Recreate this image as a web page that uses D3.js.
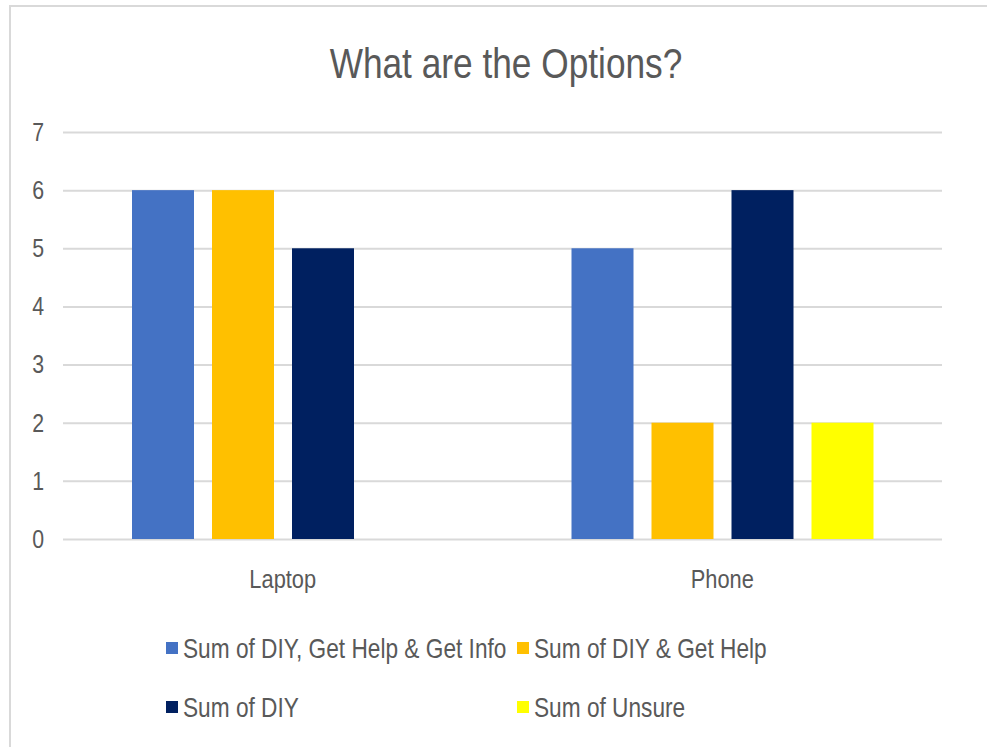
<!DOCTYPE html>
<html>
<head>
<meta charset="utf-8">
<script src="https://cdn.jsdelivr.net/npm/d3@7"></script>
<style>
  html, body { margin: 0; padding: 0; background: #ffffff; }
  svg { display: block; }
  text { font-family: "Liberation Sans", Arial, sans-serif; fill: #595959; }
</style>
</head>
<body>
<svg id="chart" width="987" height="747"></svg>
<script>
// ---- data ----
const categories = ["Laptop", "Phone"];
const seriesNames = [
  "Sum of DIY, Get Help & Get Info",
  "Sum of DIY & Get Help",
  "Sum of DIY",
  "Sum of Unsure"
];
const diyHelpInfo = [6, 5];
const diyHelp = [6, 2];
const diy = [5, 6];
const unsure = [0, 2];
const yTicks = [0, 1, 2, 3, 4, 5, 6, 7];
const seriesColors = ["#4472C4", "#FFC000", "#002060", "#FFFF00"];
const titleText = "What are the Options?";

const seriesValues = [diyHelpInfo, diyHelp, diy, unsure];
const SX = 0.82; // horizontal text condensing

const svg = d3.select("#chart");
svg.append("rect").attr("x", 0).attr("y", 0).attr("width", 987).attr("height", 747).attr("fill", "#fff");
// chart area border
svg.append("rect").attr("x", 10).attr("y", 6).attr("width", 1100).attr("height", 900)
  .attr("fill", "none").attr("stroke", "#d9d9d9").attr("stroke-width", 2);

const plot = { left: 63, right: 942, top: 132, bottom: 539 };

const x0 = d3.scaleBand().domain(categories).range([plot.left, plot.right]).padding(0);
const x1 = d3.scaleBand().domain(seriesNames).range([69, 371]).paddingInner(0.225).paddingOuter(0);
const y = d3.scaleLinear().domain([0, 7]).range([plot.bottom, plot.top]);

function addText(g, x, yy, str, size, anchor, sx) {
  return g.append("text")
    .attr("transform", `translate(${x},${yy}) scale(${sx || SX},1)`)
    .attr("text-anchor", anchor)
    .style("font-size", size + "px")
    .text(str);
}

// title
addText(svg, 506, 78, titleText, 43, "middle");

// y axis with gridlines
const yAxis = d3.axisLeft(y).tickValues(yTicks).tickFormat(d3.format("d"))
  .tickSize(-(plot.right - plot.left)).tickPadding(23.2);
const yg = svg.append("g").attr("transform", `translate(${plot.left},0)`).call(yAxis);
yg.select(".domain").remove();
yg.selectAll(".tick line").attr("stroke", "#d9d9d9").attr("stroke-width", 2);
yg.selectAll(".tick text")
  .attr("transform", `scale(${SX},1)`)
  .style("font-size", "26px").style("fill", "#595959")
  .attr("font-family", null);

// x axis labels
const xAxis = d3.axisBottom(x0).tickSize(0).tickPadding(0);
const xg = svg.append("g").attr("transform", `translate(0,${plot.bottom})`).call(xAxis);
xg.select(".domain").remove();
xg.selectAll(".tick text")
  .attr("y", 49).attr("dy", 0)
  .attr("transform", `scale(0.84,1)`)
  .attr("font-family", null)
  .style("font-size", "26px").style("fill", "#595959");

// bars
const groups = svg.append("g").selectAll("g").data(categories).join("g")
  .attr("transform", d => `translate(${x0(d)},0)`);
groups.selectAll("rect")
  .data((c, ci) => seriesNames.map((s, si) => ({ s, si, v: seriesValues[si][ci] })))
  .join("rect")
  .attr("x", d => x1(d.s))
  .attr("width", x1.bandwidth())
  .attr("y", d => y(d.v))
  .attr("height", d => y(0) - y(d.v))
  .attr("fill", d => seriesColors[d.si]);

// legend
const legendCols = [166, 517];
const legendRows = [648, 707];
seriesNames.forEach((name, i) => {
  const lx = legendCols[i % 2];
  const ly = legendRows[Math.floor(i / 2)];
  const g = svg.append("g");
  g.append("rect").attr("x", lx).attr("y", ly - 6).attr("width", 12).attr("height", 12)
    .attr("fill", seriesColors[i]);
  addText(g, lx + 17, ly + 9.5, name, 27, "start", 0.84);
});
</script>
</body>
</html>
